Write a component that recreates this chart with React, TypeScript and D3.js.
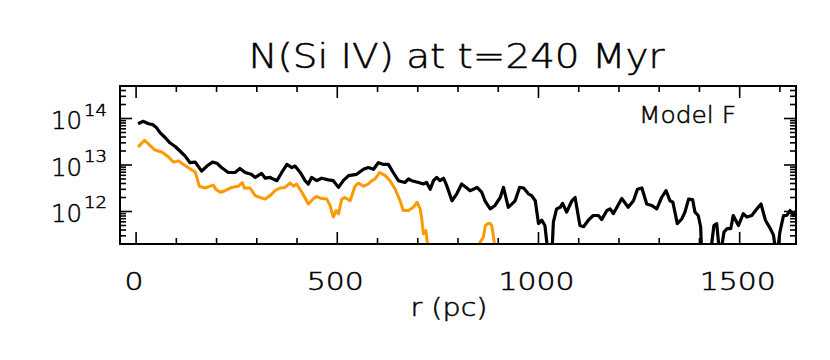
import * as d3 from "d3";

const W = 830;
const H = 360;
const MARGIN = { top: 86, right: 34, bottom: 116, left: 120 };

// radius (pc) and N(Si IV) column density (cm^-2), black curve
const rTotal = [
  5, 17, 31, 41, 51, 60, 72, 84, 97, 109,
  122, 134, 147, 163, 176, 190, 201, 213, 229, 246,
  258, 271, 286, 296, 312, 321, 333, 350, 362, 375,
  387, 395, 408, 420, 428, 436, 449, 461, 478, 490,
  503, 515, 528, 548, 565, 577, 590, 602, 615, 627,
  639, 652, 668, 677, 685, 702, 714, 722, 731, 739,
  747, 755, 764, 772, 785, 797, 809, 822, 830, 838,
  847, 859, 867, 880, 892, 905, 913, 925, 942, 953,
  963, 975, 983, 992, 1000, 1008, 1016, 1025, 1033, 1037,
  1045, 1054, 1060, 1070, 1083, 1091, 1103, 1112, 1124, 1136,
  1149, 1157, 1170, 1178, 1186, 1195, 1207, 1223, 1236, 1246,
  1257, 1269, 1281, 1294, 1306, 1317, 1327, 1334, 1345, 1356,
  1364, 1373, 1383, 1389, 1397, 1403, 1406, 1426, 1436, 1443,
  1451, 1461, 1469, 1478, 1484, 1497, 1509, 1518, 1530, 1543,
  1553, 1564, 1576, 1584, 1592, 1600, 1609, 1617, 1625, 1634,
  1642,
];
const nTotal = [
  7.7e13, 8.7e13, 7.7e13, 7.4e13, 6.3e13, 4.9e13, 3.9e13, 3.0e13, 2.5e13, 2.0e13,
  1.55e13, 1.12e13, 1.15e13, 7.4e12, 9.5e12, 1.15e13, 1.09e13, 8.7e12, 6.9e12, 6.9e12,
  8.4e12, 6.9e12, 6.3e12, 5.4e12, 6.6e12, 5.2e12, 5.4e12, 4.6e12, 6.9e12, 1.03e13,
  8.8e12, 9.5e12, 6.9e12, 4.6e12, 3.9e12, 5.4e12, 4.6e12, 5.2e12, 4.8e12, 4.6e12,
  3.3e12, 4.6e12, 5.9e12, 6.3e12, 8.1e12, 8.8e12, 8.1e12, 1.12e13, 1.03e13, 1.03e13,
  6.9e12, 4.6e12, 4.2e12, 5.0e12, 4.6e12, 4.2e12, 3.9e12, 4.2e12, 3.0e12, 4.6e12,
  5.4e12, 4.6e12, 5.2e12, 3.6e12, 1.7e12, 2.4e12, 3.9e12, 3.2e12, 2.8e12, 3.0e12,
  3.3e12, 2.6e12, 1.7e12, 1.14e12, 1.35e12, 2.0e12, 3.3e12, 1.23e12, 1.7e12, 3.3e12,
  3.2e12, 2.4e12, 2.2e12, 1.7e12, 5.5e11, 6.5e11, 5.0e11, 1e11, 1e11, 5.9e11,
  1.14e12, 1.23e12, 1.5e12, 9.7e11, 1.7e12, 2.0e12, 5.0e11, 4.7e11, 6.5e11, 8.2e11,
  8.2e11, 6.7e11, 1.05e12, 1.14e12, 9.0e11, 1.23e12, 1.9e12, 1.23e12, 1.7e12, 3.0e12,
  3.2e12, 1.45e12, 1.35e12, 1.14e12, 2.0e12, 2.8e12, 1.7e12, 1.58e12, 5.5e11, 6.9e11,
  9.7e11, 1.85e12, 1.8e12, 9.7e11, 8.2e11, 4.7e11, 1e11, 1e11, 5.0e11, 5.5e11,
  1e11, 3.6e11, 4.3e11, 4.3e11, 8.2e11, 5.0e11, 9.0e11, 7.6e11, 8.2e11, 1.14e12,
  1.45e12, 6.5e11, 4.3e11, 3.1e11, 1e11, 3.6e11, 8.2e11, 8.2e11, 1.05e12, 8.2e11,
  1.05e12,
];

// orange curve
const rOrange = [
  5, 21, 35, 47, 64, 80, 93, 105, 118, 134,
  147, 157, 171, 184, 192, 198, 209, 221, 238, 254,
  264, 269, 283, 296, 308, 321, 333, 345, 358, 370,
  383, 391, 399, 412, 428, 441, 449, 461, 474, 482,
  490, 497, 503, 511, 519, 532, 544, 552, 565, 577,
  586, 594, 605, 619, 631, 644, 656, 664, 677, 689,
  698, 706, 710, 714, 720, 726, 740, 850, 855, 863,
  868, 875, 880, 884, 890, 900,
];
const nOrange = [
  2.45e13, 3.4e13, 2.6e13, 2.1e13, 1.9e13, 1.5e13, 1.15e13, 1.23e13, 1.03e13, 8.3e12,
  7.1e12, 3.5e12, 3.2e12, 3.5e12, 3.7e12, 3.0e12, 2.6e12, 2.8e12, 3.3e12, 3.5e12,
  4.2e12, 3.2e12, 3.2e12, 2.2e12, 2.0e12, 1.85e12, 2.2e12, 2.8e12, 3.2e12, 3.3e12,
  4.1e12, 3.5e12, 3.9e12, 2.6e12, 1.45e12, 1.9e12, 2.1e12, 1.9e12, 1.85e12, 1.35e12,
  7.6e11, 1.05e12, 8.9e11, 1.85e12, 2.0e12, 1.7e12, 3.5e12, 4.1e12, 3.5e12, 3.9e12,
  4.6e12, 5.0e12, 6.9e12, 5.9e12, 4.6e12, 3.0e12, 1.7e12, 1.05e12, 1.05e12, 1.23e12,
  1.58e12, 1.14e12, 6.9e11, 3.3e11, 3.9e11, 1.5e11, 1e11, 1e11, 2.2e11, 2.8e11,
  5.0e11, 5.5e11, 5.5e11, 5.0e11, 2.2e11, 1e11,
];

const xLabels = ["0", "500", "1000", "1500"];
const yDecades = [12, 13, 14];

const FONT = "'DejaVu Sans', 'Liberation Sans', Arial, sans-serif";

export default function App() {
  const boundsWidth = W - MARGIN.left - MARGIN.right;
  const boundsHeight = H - MARGIN.top - MARGIN.bottom;
  const x0 = MARGIN.left;
  const y0 = MARGIN.top;
  const x1 = x0 + boundsWidth;
  const y1 = y0 + boundsHeight;

  const xScale = d3.scaleLinear().domain([-40, 1640]).range([x0, x1]);
  const yScale = d3.scaleLog().domain([2e11, 5e14]).range([y1, y0]);

  const line = d3
    .line<[number, number]>()
    .x((d) => xScale(d[0]))
    .y((d) => yScale(d[1]));

  const totalPath = line(rTotal.map((r, i) => [r, nTotal[i]]));
  const orangePath = line(rOrange.map((r, i) => [r, nOrange[i]]));

  // x ticks every 100 pc, long ones every 500
  const xTicks = d3.range(0, 1700, 100).filter((v) => v <= 1640);

  // log ticks
  const yTicks: { v: number; major: boolean }[] = [];
  [11, 12, 13, 14].forEach((e) => {
    for (let m = 1; m <= 9; m++) {
      const v = m * Math.pow(10, e);
      if (v >= 2e11 && v <= 5e14) yTicks.push({ v, major: m === 1 });
    }
  });

  return (
    <svg
      width={W}
      height={H}
      style={{ position: "absolute", left: 0, top: 0, background: "#fff" }}
      fontFamily={FONT}
      fontWeight={200}
    >
      <defs>
        <clipPath id="plotClip">
          <rect x={x0} y={y0} width={boundsWidth} height={boundsHeight} />
        </clipPath>
      </defs>

      <g fill="#000" stroke="#000" strokeWidth={0.5}>
        <text
          x={456.5}
          y={68}
          fontSize={34}
          textAnchor="middle"
          textLength={416}
          lengthAdjust="spacingAndGlyphs"
        >
          N(Si IV) at t=240 Myr
        </text>

        {/* x tick labels */}
        {xLabels.map((s) => (
          <text
            key={"xl" + s}
            x={xScale(+s) - 2}
            y={290}
            fontSize={24}
            textAnchor="middle"
            textLength={19 * s.length}
            lengthAdjust="spacingAndGlyphs"
          >
            {s}
          </text>
        ))}

        {/* y tick labels */}
        {yDecades.map((e) => {
          const py = yScale(Math.pow(10, e));
          return (
            <g key={"yl" + e}>
              <text
                x={82}
                y={py + 10.5}
                fontSize={25}
                textAnchor="end"
                textLength={31}
                lengthAdjust="spacingAndGlyphs"
              >
                10
              </text>
              <text
                x={84}
                y={py - 3}
                fontSize={15}
                textLength={23}
                lengthAdjust="spacingAndGlyphs"
              >
                {String(e)}
              </text>
            </g>
          );
        })}

        <text
          x={449}
          y={316}
          fontSize={24}
          textAnchor="middle"
          textLength={77}
          lengthAdjust="spacingAndGlyphs"
        >
          r (pc)
        </text>

        <text
          x={639}
          y={123}
          fontSize={23}
          textLength={97}
          lengthAdjust="spacingAndGlyphs"
        >
          Model F
        </text>
      </g>

      <g clipPath="url(#plotClip)" fill="none" strokeLinejoin="round">
        <path d={orangePath || ""} stroke="#ff9900" strokeWidth={3} />
        <path d={totalPath || ""} stroke="#000" strokeWidth={3.2} />
      </g>

      {/* ticks */}
      <g stroke="#000" strokeWidth={1.6}>
        {xTicks.map((v) => {
          const len = v % 500 === 0 ? 12 : 6;
          const px = xScale(v);
          return (
            <g key={"xt" + v}>
              <line x1={px} x2={px} y1={y1} y2={y1 - len} />
              <line x1={px} x2={px} y1={y0} y2={y0 + len} />
            </g>
          );
        })}
        {yTicks.map((t) => {
          const len = t.major ? 12 : 6;
          const py = yScale(t.v);
          return (
            <g key={"yt" + t.v}>
              <line x1={x0} x2={x0 + len} y1={py} y2={py} />
              <line x1={x1} x2={x1 - len} y1={py} y2={py} />
            </g>
          );
        })}
      </g>

      <rect
        x={x0}
        y={y0}
        width={boundsWidth}
        height={boundsHeight}
        fill="none"
        stroke="#000"
        strokeWidth={2}
      />
    </svg>
  );
}
